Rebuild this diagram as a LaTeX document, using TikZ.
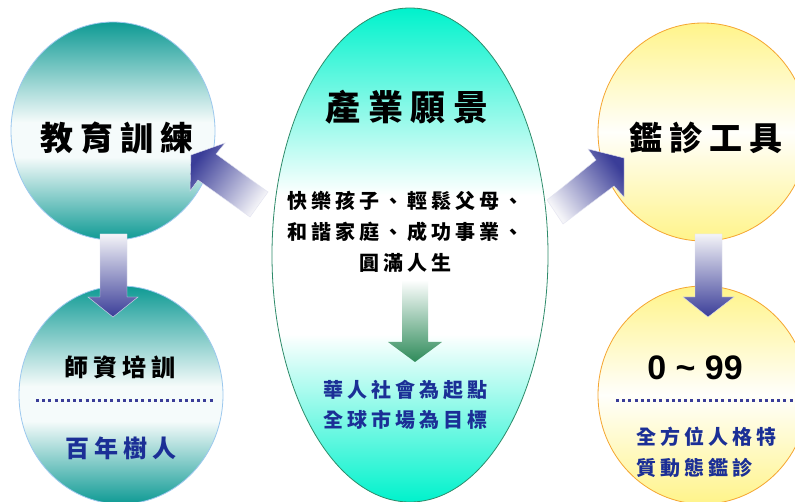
\documentclass[tikz,border=0pt]{standalone}
\usepackage{fontspec}
\setmainfont{Liberation Sans}
\newfontfamily\cjk[LetterSpace=22]{Noto Sans CJK TC}
\newfontfamily\cjkmid[LetterSpace=20]{Noto Sans CJK TC}
\usetikzlibrary{shapes.geometric}
\definecolor{tealc}{HTML}{0E9A94}
\definecolor{tealedge}{HTML}{9CC8EE}
\definecolor{aqua}{HTML}{00F2CC}
\definecolor{aquaedge}{HTML}{2E8B6A}
\definecolor{yel}{HTML}{FFF48A}
\definecolor{yeledge}{HTML}{F5A530}
\definecolor{arrowblue}{HTML}{3A3D98}
\definecolor{arrowpale}{HTML}{F4F4F8}
\definecolor{arrowgreen}{HTML}{2E8B5A}
\definecolor{textblue}{HTML}{1B2F96}
\pgfdeclareverticalshading{aquaband}{100bp}{color(0bp)=(aqua); color(25bp)=(aqua); color(42bp)=(white); color(56bp)=(white); color(75bp)=(aqua); color(100bp)=(aqua)}
\pgfdeclareverticalshading{tealband}{100bp}{color(0bp)=(tealc); color(25bp)=(tealc); color(44bp)=(white!96!tealc); color(52bp)=(white!96!tealc); color(75bp)=(tealc); color(100bp)=(tealc)}
\tikzset{
  tealball/.style={ellipse, draw=tealedge, line width=0.8pt, shading=tealband, minimum width=204, minimum height=218, inner sep=0pt},
  yelball/.style={ellipse, draw=yeledge, line width=0.8pt, top color=yel, bottom color=yel, middle color=white!97!yel, minimum width=210, minimum height=218, inner sep=0pt},
  vision/.style={ellipse, draw=aquaedge, line width=0.8pt, shading=aquaband, minimum width=276, minimum height=494, inner sep=0pt},
  bigtxt/.style={font=\cjk\bfseries\fontsize{33}{38}\selectfont, inner sep=0pt},
  midtxt/.style={font=\cjk\bfseries\fontsize{24}{30}\selectfont, inner sep=0pt},
  smalltxt/.style={font=\cjkmid\bfseries\fontsize{20}{31}\selectfont, inner sep=0pt, align=center},
  dotline/.style={draw=arrowblue, line width=3pt, dash pattern=on 3pt off 3.2pt},
  fatblue/.style={draw=white!85!arrowblue, line width=0.4pt},
}
\begin{document}
\begin{tikzpicture}[x=1pt,y=-1pt]
\useasboundingbox (0,0) rectangle (795,502);
\clip (0,0) rectangle (795,502);
\fill[white] (0,0) rectangle (795,502);

% balls
\node[tealball] (edu) at (113,131) {};
\node[tealball] (teach) at (121,395) {};
\node[vision] (vis) at (410,255) {};
\node[yelball] (tool) at (703,132) {};
\node[yelball] (age) at (703,395) {};

% fat arrows
\path[fatblue, top color=arrowblue, bottom color=arrowpale, shading angle=54]
  (191,155) -- (225,143) -- (216,154) -- (268,192) -- (250,217) -- (198,180) -- (190,191) -- cycle;
\path[fatblue, top color=arrowblue, bottom color=arrowpale, shading angle=-53]
  (624,158) -- (624,197) -- (614,186) -- (563,224) -- (547,200) -- (596,160) -- (588,149) -- cycle;
\path[fatblue, top color=arrowpale, bottom color=arrowblue]
  (100,234) -- (127,234) -- (127,297) -- (138,297) -- (113,317) -- (88,297) -- (100,297) -- cycle;
\path[fatblue, top color=arrowpale, bottom color=arrowblue]
  (695,234) -- (722,234) -- (722,297) -- (734,297) -- (708,317) -- (683,297) -- (695,297) -- cycle;
\path[top color=white, bottom color=arrowgreen]
  (402,280) -- (428,280) -- (428,342) -- (442,342) -- (415,362) -- (388,342) -- (402,342) -- cycle;

% texts
\node[bigtxt] (t1) at (117,138) {教育訓練};
\node[midtxt] (t2) at (120,367) {師資培訓};
\draw[dotline] (36,400) -- (214,400);
\node[midtxt, text=textblue] (t3) at (121,448) {百年樹人};

\node[bigtxt, font=\cjk\bfseries\fontsize{35}{40}\selectfont] (t4) at (407,107) {產業願景};
\node[smalltxt] (t5) at (405,232) {快樂孩子、輕鬆父母、\\和諧家庭、成功事業、\\圓滿人生};
\node[smalltxt, text=textblue, font=\cjkmid\bfseries\fontsize{20}{30}\selectfont] (t6) at (405,405) {華人社會為起點\\全球市場為目標};

\node[bigtxt] (t7) at (706,138) {鑑診工具};
\node[inner sep=0pt, font=\bfseries\fontsize{34}{40}\selectfont] (t8) at (695,368) {0 \char`\~{} 99};
\draw[dotline] (616,400) -- (798,400);
\node[smalltxt, align=left, anchor=west, text=textblue] (t9) at (636,452) {全方位人格特\\質動態鑑診};
\end{tikzpicture}
\end{document}
